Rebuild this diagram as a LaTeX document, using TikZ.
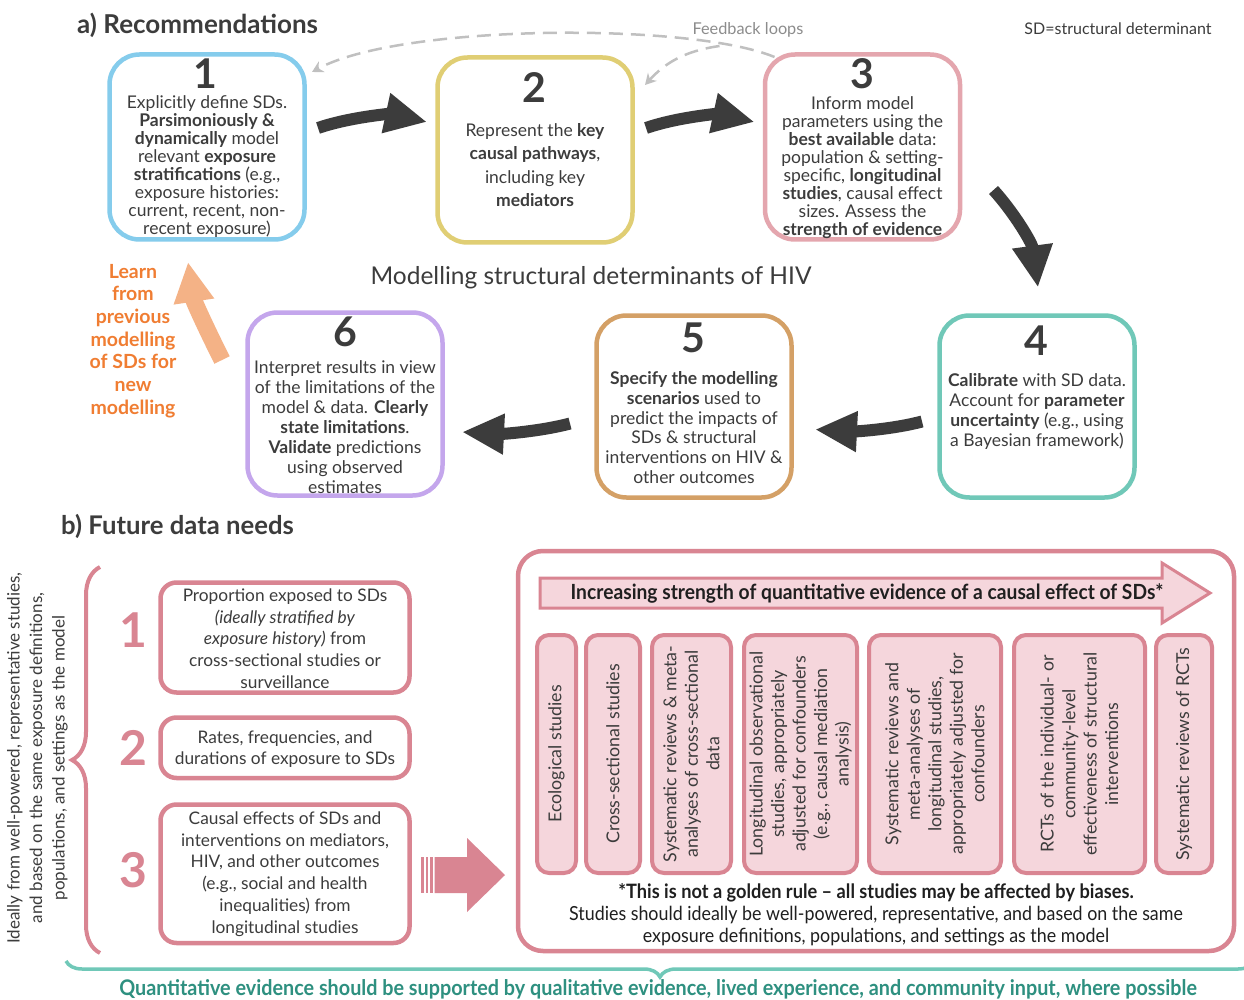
\documentclass[tikz,border=0pt]{standalone}
\usepackage[RGB]{xcolor}
\usepackage{fontspec}
\setmainfont{Lato}
\newfontfamily\narrowfont[FakeStretch=0.92]{Lato}
\usepackage{tikz}
\usetikzlibrary{arrows.meta,decorations.pathreplacing,calc}
\definecolor{ink}{RGB}{60,60,60}
\definecolor{stepA}{RGB}{133,204,236}
\definecolor{stepB}{RGB}{224,206,116}
\definecolor{stepC}{RGB}{228,166,174}
\definecolor{stepD}{RGB}{112,200,184}
\definecolor{stepE}{RGB}{212,160,102}
\definecolor{stepF}{RGB}{196,166,236}
\definecolor{rose}{RGB}{217,133,146}
\definecolor{roselight}{RGB}{245,214,220}
\definecolor{learn}{RGB}{240,125,50}
\definecolor{learnarrow}{RGB}{244,178,134}
\definecolor{qualline}{RGB}{112,200,184}
\definecolor{qualtext}{RGB}{46,144,128}
\definecolor{loopgrey}{RGB}{192,192,192}
\newcommand{\fsz}[2]{\fontsize{#1}{#2}\selectfont}
\newcommand{\stepnumber}[3]{\node[bignum] (#1) at (#2) {#3};}
\tikzset{
  stepbox/.style={draw=#1, line width=4.5pt, rounded corners=30pt, minimum width=195pt, minimum height=185pt},
  bignum/.style={font=\fsz{41}{41}\bfseries, text=ink, inner sep=0pt},
  steptext/.style={font=\fsz{17.5}{#1}, text=ink, align=center, inner sep=0pt},
  flow/.style={ink, line width=12pt, -{Triangle[length=42pt,width=38pt]}},
  feedback/.style={loopgrey, line width=2.5pt, dash pattern=on 14pt off 8pt, -{Stealth[length=11pt,width=12pt]}},
  needbox/.style={draw=rose, line width=4.5pt, rounded corners=16pt, minimum width=249pt},
  needtext/.style={font=\fsz{17.3}{21.7}, text=ink, align=center, inner sep=0pt},
  neednum/.style={font=\fsz{48}{48}\bfseries, text=rose, inner sep=0pt},
  studybox/.style={draw=rose, fill=roselight, line width=4pt, rounded corners=12pt, rotate=90, minimum width=238pt, align=center, font=\fsz{17.8}{21.5}, text=ink, inner sep=0pt}
}
\begin{document}
\begin{tikzpicture}[x=1pt,y=-1pt]
\path[use as bounding box, fill=white] (0,0) rectangle (1244,1000);
\node[font=\fsz{26}{26}\bfseries, text=ink, anchor=west, inner sep=0pt] (titleA) at (77,25) {a) Recommendations};
\node[font=\fsz{16}{16}, text=ink, inner sep=0pt] (sdnote) at (1118,29) {SD=structural determinant};
\node[font=\fsz{16.3}{16.3}, text=black!45, inner sep=0pt] (loops) at (748,30) {Feedback loops};
\node[stepbox=stepA] (recA) at (207,147) {};
\node[stepbox=stepB] (recB) at (535,150) {};
\node[stepbox=stepC] (recC) at (862.5,147) {};
\node[stepbox=stepD, minimum height=182pt] (recD) at (1037,406.5) {};
\node[stepbox=stepE, minimum height=182pt] (recE) at (694,406.5) {};
\node[stepbox=stepF, minimum height=183pt] (recF) at (345,404) {};
\stepnumber{numA}{205,73.5}{1}\stepnumber{numB}{534,88}{2}\stepnumber{numC}{862,73.5}{3}\stepnumber{numD}{1036,341}{4}\stepnumber{numE}{693,338}{5}\stepnumber{numF}{345,332}{6}
\node[steptext=18] (txtA) at (207,167) {Explicitly define SDs.\\\textbf{Parsimoniously \&}\\\textbf{dynamically} model\\relevant \textbf{exposure}\\\textbf{stratifications} (e.g.,\\exposure histories:\\current, recent, non-\\recent exposure)};
\node[steptext=23.3] (txtB) at (535,165) {Represent the \textbf{key}\\\textbf{causal pathways},\\including key\\\textbf{mediators}};
\node[steptext=18] (txtC) at (862.5,167.5) {Inform model\\parameters using the\\\textbf{best available} data:\\population \& setting-\\specific, \textbf{longitudinal}\\\textbf{studies}, causal effect\\sizes. Assess the\\\textbf{strength of evidence}};
\node[steptext=20] (txtD) at (1037,411) {\textbf{Calibrate} with SD data.\\Account for \textbf{parameter}\\\textbf{uncertainty} (e.g., using\\a Bayesian framework)};
\node[steptext=19.8] (txtE) at (694,427.5) {\textbf{Specify the modelling}\\\textbf{scenarios} used to\\predict the impacts of\\SDs \& structural\\interventions on HIV \&\\other outcomes};
\node[steptext=20] (txtF) at (345,427) {Interpret results in view\\of the limitations of the\\model \& data. \textbf{Clearly}\\\textbf{state limitations}.\\\textbf{Validate} predictions\\using observed\\estimates};
\node[font=\fsz{24.5}{24.5}, text=ink, inner sep=0pt] (hiv) at (591,278) {Modelling structural determinants of HIV};
\node[font=\fsz{19.5}{22.7}\bfseries, text=learn, align=center, inner sep=0pt] (learn) at (133,341) {Learn\\from\\previous\\modelling\\of SDs for\\new\\modelling};
\draw[flow] ($(recA.center)+(111,-19)$) .. controls +(32,-11) and +(-37,-8) .. ($(recB.center)+(-108,-28)$);
\draw[flow] ($(recB.center)+(111,-22)$) .. controls +(32,-11) and +(-37,-8) .. ($(recC.center)+(-108,-25)$);
\draw[flow] ($(recC.center)+(131,43)$) .. controls +(20,22) and +(-6,-45) .. ($(recD.center)+(1,-119)$);
\draw[flow] ($(recD.center)+(-115,15)$) .. controls +(-30,8) and +(40,2) .. ($(recE.center)+(121,23)$);
\draw[flow] ($(recE.center)+(-124,17)$) .. controls +(-30,8) and +(40,2) .. ($(recF.center)+(117,28)$);
\draw[learnarrow, line width=17pt, -{Triangle[length=40pt,width=38pt]}] ($(recF.center)+(-123,-44)$) .. controls +(-14,-28) and +(6,40) .. ($(recA.center)+(-19,115)$);
\draw[feedback] ($(recC.center)+(-88,-90)$) .. controls +(-85,-35) and +(88,-48) .. ($(recA.center)+(105,-75)$);
\draw[feedback] ($(recC.center)+(-143,-101)$) .. controls +(-35,5) and +(20,-22) .. ($(recB.center)+(110,-65)$);
\node[font=\fsz{25.7}{25.7}\bfseries, text=ink, anchor=west, inner sep=0pt] (titleB) at (61,526) {b) Future data needs};
\node[rotate=90, font=\fsz{17}{22.5}, text=ink, align=center, inner sep=0pt] (ideal) at (37.5,758) {Ideally from well-powered, representative studies,\\and based on the same exposure definitions,\\populations, and settings as the model};
\draw[rose, line width=4pt, decorate, decoration={brace, amplitude=28pt}] (100,953) -- (100,567);
\node[neednum] (neednumA) at (133,630) {1};
\node[neednum] (neednumB) at (133,748) {2};
\node[neednum] (neednumC) at (133,870) {3};
\node[needbox, minimum height=110pt] (needA) at (285,637.5) {};
\node[needbox, minimum height=60.5pt] (needB) at (285,747.75) {};
\node[needbox, minimum height=138.5pt] (needC) at (285,873.75) {};
\node[needtext] (needtxtA) at (285,638.5) {Proportion exposed to SDs\\\textit{(ideally stratified by}\\\textit{exposure history)} from\\cross-sectional studies or\\surveillance};
\node[needtext] (needtxtB) at (285,749) {Rates, frequencies, and\\durations of exposure to SDs};
\node[needtext] (needtxtC) at (285,874) {Causal effects of SDs and\\interventions on mediators,\\HIV, and other outcomes\\(e.g., social and health\\inequalities) from\\longitudinal studies};
\foreach \sx in {421,425.5,430}{
  \fill[rose] (\sx,857) rectangle ++(2.5,36);
}
\fill[rose] (434.5,857) -- (467,857) -- (467,838) -- (505,875) -- (467,912) -- (467,893) -- (434.5,893) -- cycle;
\node[draw=rose, line width=4.5pt, rounded corners=25pt, minimum width=716pt, minimum height=400pt] (evidence) at (876,751) {};
\draw[rose, fill=roselight, line width=3pt] (540,578) -- (1162,578) -- (1162,563) -- (1210,593) -- (1162,623) -- (1162,608) -- (540,608) -- cycle;
\node[font=\narrowfont\fsz{20.9}{20.9}\bfseries, text=black!88, inner sep=0pt] (strength) at (867,593) {Increasing strength of quantitative evidence of a causal effect of SDs*};
\foreach \cx/\cw/\ctext [count=\i] in {556.5/39pt/{Ecological studies}, 613/54pt/{Cross-sectional studies}, 691.5/79pt/{Systematic reviews \& meta-\\analyses of cross-sectional\\data}, 800.5/113pt/{Longitudinal observational\\studies, appropriately\\adjusted for confounders\\(e.g., causal mediation\\analysis)}, 935/132pt/{Systematic reviews and\\meta-analyses of\\longitudinal studies,\\appropriately adjusted for\\confounders}, 1079.5/131pt/{RCTs of the individual- or\\community-level\\effectiveness of structural\\interventions}, 1184/56pt/{Systematic reviews of RCTs}}{
  \node[studybox, minimum height=\cw] (study\i) at (\cx,754) {\ctext};
}
\node[font=\narrowfont\fsz{19.8}{19.8}\bfseries, text=black!88, inner sep=0pt] (caveat) at (876,893) {*This is not a golden rule \textendash{} all studies may be affected by biases.};
\node[font=\narrowfont\fsz{19.4}{22}, text=black!88, align=center, inner sep=0pt] (caveatB) at (876,926) {Studies should ideally be well-powered, representative, and based on the same\\exposure definitions, populations, and settings as the model};
\draw[qualline, line width=3.5pt, decorate, decoration={brace, amplitude=16pt}] (1254,961) -- (66,961);
\node[font=\narrowfont\fsz{21.5}{21.5}\bfseries, text=qualtext, inner sep=0pt] (quant) at (658,989) {Quantitative evidence should be supported by qualitative evidence, lived experience, and community input, where possible};
\end{tikzpicture}
\end{document}
